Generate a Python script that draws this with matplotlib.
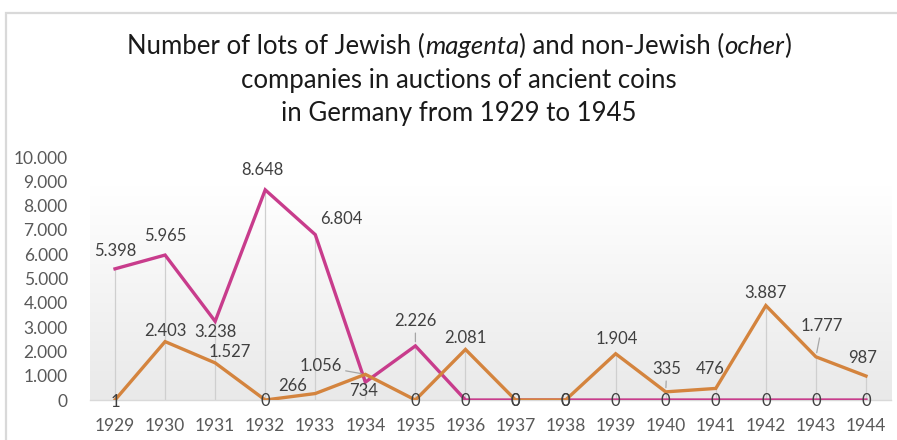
import matplotlib
matplotlib.use("Agg")
import matplotlib.pyplot as plt
import numpy as np
from matplotlib.patches import Rectangle

# ---- data ----
years = ["1929", "1930", "1931", "1932", "1933", "1934", "1935", "1936",
         "1937", "1938", "1939", "1940", "1941", "1942", "1943", "1944"]
jewish = [5398, 5965, 3238, 8648, 6804, 734, 2226, 0, 0, 0, 0, 0, 0, 0, 0, 0]
non_jewish = [1, 2403, 1527, 0, 266, 1056, 0, 2081, 0, 0, 1904, 335, 476, 3887, 1777, 987]
y_ticks = [0, 1000, 2000, 3000, 4000, 5000, 6000, 7000, 8000, 9000, 10000]

# ---- styling: label offsets in pixels (dx, dy), leader flags ----
off_j = [(0, 18), (0, 19), (0, -11), (-3, 20), (26, 16), (-2, -9), (0, 25),
         (0, -1), (0, -1), (0, -1), (0, -1), (0, -1), (0, -1), (0, -1), (0, -1), (0, -1)]
lead_j = [False]*6 + [True] + [False]*9
off_o = [(0, -2), (0, 11), (15, 11), (0, -1), (-23, 8), (-45, 8), (0, -1), (0, 11),
         (0, -1), (0, -1), (1, 15), (1, 23), (-6, 19), (0, 13), (6, 31), (-3, 18)]
lead_o = [False]*5 + [True] + [False]*5 + [True] + [False]*2 + [True] + [False]

MAG = "#c83c8c"
OCH = "#d4843e"
FONT = ["Lato", "DejaVu Sans"]
plt.rcParams['font.family'] = FONT

W, H = 897, 440
fig = plt.figure(figsize=(W/100, H/100), dpi=100)
fig.patch.set_facecolor("white")

# chart border
fig.patches.append(Rectangle((6/W, -0.1), 1.0, (H-13)/H + 0.1, transform=fig.transFigure,
                             fill=False, edgecolor="#d9d9d9", linewidth=1.6))

ax = fig.add_axes([90/W, 40/H, 801/W, 243/H])
x = np.arange(len(years))
ax.set_xlim(-0.5, len(years) - 0.5)
ax.set_ylim(0, 10000)

# gradient background
grad = np.linspace(0, 1, 256).reshape(-1, 1)
cmap = matplotlib.colors.LinearSegmentedColormap.from_list("g", ["#e9e9e9", "#ffffff"])
ax.imshow(grad, extent=[-0.5, len(years) - 0.5, 0, 8800], origin="lower", aspect="auto",
          cmap=cmap, zorder=0)

# drop lines
tops = [max(a, b) for a, b in zip(jewish, non_jewish)]
ax.vlines(x, 0, tops, colors="#cfcfcf", linewidth=0.9, zorder=1)

ax.plot(x, jewish, color=MAG, linewidth=2.4, solid_joinstyle="miter", zorder=3)
ax.plot(x, non_jewish, color=OCH, linewidth=2.4, solid_joinstyle="miter", zorder=3)


def fmt(v):
    return f"{v:,}".replace(",", ".")


def label(vals, offs, leads):
    for i, v in enumerate(vals):
        dx, dy = offs[i]
        kw = {}
        if leads[i]:
            kw["arrowprops"] = dict(arrowstyle="-", color="#a6a6a6", lw=0.9,
                                    shrinkA=1, shrinkB=3)
        ax.annotate(fmt(v), (x[i], v), xytext=(dx, dy), textcoords="offset pixels",
                    ha="center", va="center", fontsize=12, color="#404040", zorder=5, **kw)


label(non_jewish, off_o, lead_o)
label(jewish, off_j, lead_j)

for s in ["top", "right", "left"]:
    ax.spines[s].set_visible(False)
ax.spines["bottom"].set_color("#d9d9d9")
ax.spines["bottom"].set_linewidth(1.0)
ax.spines["bottom"].set_zorder(2)

ax.set_xticks(x)
ax.set_xticklabels(years)
ax.set_yticks(y_ticks)
ax.set_yticklabels([fmt(t) for t in y_ticks])
ax.tick_params(axis="both", length=0, labelsize=12.5, colors="#595959")
ax.tick_params(axis="x", pad=13)
ax.tick_params(axis="y", pad=16)

# title with italic parts
title_lines = [
    [("Number of lots of Jewish (", "normal"), ("magenta", "italic"),
     (") and non-Jewish (", "normal"), ("ocher", "italic"), (")", "normal")],
    [("companies in auctions of ancient coins", "normal")],
    [("in Germany from 1929 to 1945", "normal")],
]
title_y = [46, 80, 113]
fig.canvas.draw()
renderer = fig.canvas.get_renderer()
for parts, yy in zip(title_lines, title_y):
    texts = []
    widths = []
    for s, st in parts:
        t = fig.text(0, 1 - yy/H, s, fontsize=18.5, style=st, color="#1a1a1a",
                     ha="left", va="center")
        texts.append(t)
        widths.append(t.get_window_extent(renderer).width)
    total = sum(widths)
    cur = 459 - total/2
    for t, w in zip(texts, widths):
        t.set_x(cur / W)
        cur += w

fig.savefig("out.png", dpi=100)
